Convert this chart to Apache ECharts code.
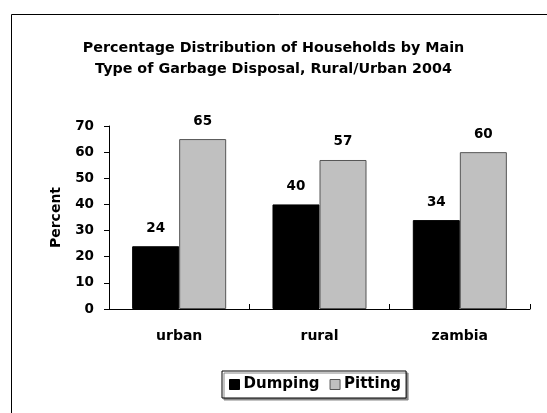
<!DOCTYPE html>
<html>
<head>
<meta charset="utf-8">
<script src="https://cdn.jsdelivr.net/npm/echarts@6/dist/echarts.min.js"></script>
<style>
  html, body { margin: 0; padding: 0; background: #fff; }
  #chart { width: 547px; height: 413px; }
</style>
</head>
<body>
<div id="chart"></div>
<script>
// data
var categories = ['urban', 'rural', 'zambia'];
var dumping = [24, 40, 34];
var pitting = [65, 57, 60];
var yTicks = [0, 10, 20, 30, 40, 50, 60, 70];

// the original uses a wide bold sans, DejaVu is closest in width
var font = 'DejaVu Sans, Verdana, sans-serif';
var chart = echarts.init(document.getElementById('chart'));

var labelStyle = {
  show: true,
  position: 'top',
  distance: 11,
  color: '#000',
  fontFamily: font,
  fontWeight: 'bold',
  fontSize: 13.5
};

chart.setOption({
  animation: false,
  backgroundColor: '#fff',
  graphic: [{
    type: 'rect',
    shape: { x: 11.5, y: 14.5, width: 560, height: 420 },
    style: { fill: 'none', stroke: '#000', lineWidth: 1 },
    z: -1
  }],
  title: {
    text: 'Percentage Distribution of Households by Main\nType of Garbage Disposal, Rural/Urban 2004',
    left: 'center',
    top: 33,
    textStyle: {
      fontFamily: font,
      fontWeight: 'bold',
      fontSize: 14.3,
      lineHeight: 21,
      color: '#000'
    }
  },
  legend: {
    left: 222,
    top: 371,
    itemWidth: 10,
    itemHeight: 10,
    itemGap: 10,
    padding: [6, 5, 6, 7],
    backgroundColor: '#fff',
    borderColor: '#000',
    borderWidth: 1,
    borderRadius: 0,
    shadowColor: '#888',
    shadowOffsetX: 2,
    shadowOffsetY: 2,
    shadowBlur: 0,
    textStyle: {
      fontFamily: font,
      fontWeight: 'bold',
      fontSize: 15,
      color: '#000',
      padding: [0, 0, 0, -1]
    },
    data: [
      { name: 'Dumping', icon: 'rect', itemStyle: { color: '#000', borderColor: '#000', borderWidth: 1 } },
      { name: 'Pitting', icon: 'rect', itemStyle: { color: '#c0c0c0', borderColor: '#555', borderWidth: 1 } }
    ]
  },
  grid: {
    left: 109,
    right: 17,
    top: 126,
    bottom: 104
  },
  xAxis: {
    type: 'category',
    data: categories,
    axisLine: { lineStyle: { color: '#000', width: 1 } },
    axisTick: { show: true, inside: true, length: 5, lineStyle: { color: '#000' } },
    axisLabel: {
      margin: 20,
      color: '#000',
      fontFamily: font,
      fontWeight: 'bold',
      fontSize: 14
    }
  },
  yAxis: {
    type: 'value',
    min: 0,
    max: 70,
    interval: 10,
    name: 'Percent',
    nameLocation: 'middle',
    nameGap: 46,
    nameRotate: 90,
    nameTextStyle: {
      color: '#000',
      fontFamily: font,
      fontWeight: 'bold',
      fontSize: 14
    },
    splitLine: { show: false },
    axisLine: { show: true, lineStyle: { color: '#000', width: 1 } },
    axisTick: { show: true, length: 5, lineStyle: { color: '#000' } },
    axisLabel: {
      margin: 15,
      color: '#000',
      fontFamily: font,
      fontWeight: 'bold',
      fontSize: 13.5,
      formatter: function (v) { return yTicks.indexOf(v) >= 0 ? String(v) : ''; }
    }
  },
  series: [
    {
      name: 'Dumping',
      type: 'bar',
      data: dumping,
      barGap: '0%',
      barCategoryGap: '33%',
      itemStyle: { color: '#000', borderColor: '#000', borderWidth: 1 },
      label: labelStyle
    },
    {
      name: 'Pitting',
      type: 'bar',
      data: pitting,
      itemStyle: { color: '#c0c0c0', borderColor: '#555', borderWidth: 1 },
      label: labelStyle
    }
  ]
});
</script>
</body>
</html>
